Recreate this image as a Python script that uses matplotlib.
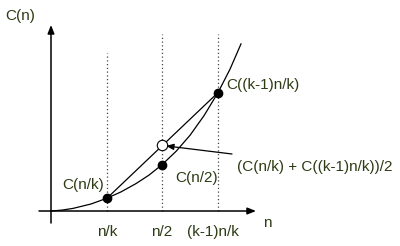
import matplotlib
matplotlib.use('Agg')
import matplotlib.pyplot as plt

plt.rcParams['font.family'] = ['Liberation Sans', 'DejaVu Sans']

# curve C(n) (x, y from the origin)
curve_x = [0, 11, 22, 40, 56, 70, 85, 98, 111, 125, 139, 153, 167, 179, 190]
curve_y = [0, 0.9, 2.6, 7.0, 12.8, 19.1, 27.4, 35.9, 46.3, 59.6, 75.7, 95.3, 118.4, 141.8, 167.1]

# the three marked positions and their values
pos_labels = ['n/k', 'n/2', '(k-1)n/k']
pos_x = [56, 111, 167]
pos_c = [12.8, 46.3, 118.4]
dotted_top = [158, 177, 177]
mid_c = (pos_c[0] + pos_c[2]) / 2

txt = '#2c3b14'

fig = plt.figure(figsize=(4, 2.46), dpi=100)
ax = fig.add_axes([0, 0, 1, 1])
ax.set_xlim(-51, 349)
ax.set_ylim(-35, 211)
ax.axis('off')

# axes with arrows
arr = dict(arrowstyle='-|>,head_length=0.5,head_width=0.2', color='black', lw=1.1,
           shrinkA=0, shrinkB=0)
ax.annotate('', xy=(0, 186), xytext=(0, -12), arrowprops=arr)
ax.annotate('', xy=(205, 0), xytext=(-12, 0), arrowprops=arr)

# dotted guides
for x, top in zip(pos_x, dotted_top):
    ax.plot([x, x], [0, top], color='#444444', lw=0.9, linestyle=(0, (1, 2)))

# curve and chord
ax.plot(curve_x, curve_y, color='black', lw=0.9)
ax.plot([pos_x[0], pos_x[2]], [pos_c[0], pos_c[2]], color='black', lw=0.9)

# points
ax.plot(pos_x, pos_c, 'o', color='black', ms=6)
ax.plot([pos_x[1]], [mid_c], 'o', mfc='white', mec='black', mew=0.8, ms=7.5)

# pointer arrow to the midpoint
ax.annotate('', xy=(pos_x[1] + 4, mid_c - 0.5), xytext=(181, 57),
            arrowprops=dict(arrowstyle='-|>,head_length=0.45,head_width=0.18',
                            color='black', lw=0.9, shrinkA=0, shrinkB=0))

fs = 11
ax.text(-46, 195, 'C(n)', fontsize=fs, color=txt, ha='left', va='center')
ax.text(175, 126, 'C((k-1)n/k)', fontsize=fs, color=txt, ha='left', va='center')
ax.text(11, 26.5, 'C(n/k)', fontsize=fs, color=txt, ha='left', va='center')
ax.text(124, 33, 'C(n/2)', fontsize=fs, color=txt, ha='left', va='center')
ax.text(186, 44, '(C(n/k) + C((k-1)n/k))/2', fontsize=fs, color=txt, ha='left', va='center')
ax.text(212, -12, 'n', fontsize=fs, color=txt, ha='left', va='center')

tick_x = [56, 111, 162]
for x, lab in zip(tick_x, pos_labels):
    ax.text(x, -21, lab, fontsize=fs, color=txt, ha='center', va='center')

plt.savefig('out.png', dpi=100)
